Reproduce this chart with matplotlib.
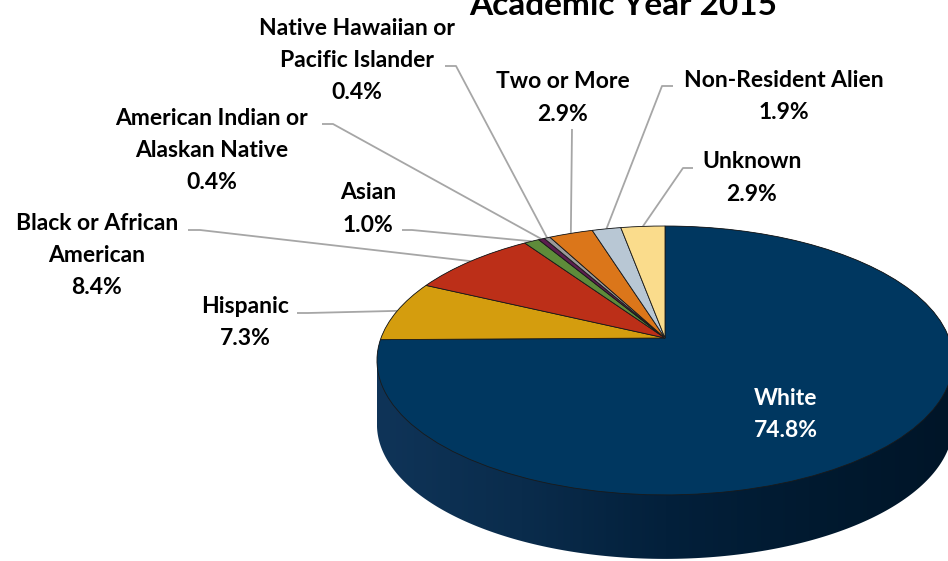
import numpy as np
import matplotlib
matplotlib.use("Agg")
import matplotlib.pyplot as plt
from matplotlib.transforms import Transform
from matplotlib.path import Path
from matplotlib.patches import PathPatch
from matplotlib.colors import LinearSegmentedColormap

# ---------------- data ----------------
title = "Academic Year 2015"
categories = ["White", "Hispanic", "Black or African\nAmerican", "Asian",
              "American Indian or\nAlaskan Native", "Native Hawaiian or\nPacific Islander",
              "Two or More", "Non-Resident Alien", "Unknown"]
values = [74.8, 7.3, 8.4, 1.0, 0.4, 0.4, 2.9, 1.9, 2.9]
colors = ["#003760", "#D49D0E", "#BC2F18", "#5E8B3A", "#5C1D4F",
          "#9A9A9A", "#DB761A", "#B8C7D4", "#FADC8C"]

# ---------------- layout ----------------
W, H = 948, 561
CX, CY, RX, RY, K, DEPTH = 665, 338, 284, 130.7, 0.167, 64
FONT = "Lato"
FS = 16.5
PITCH = 32.2
# label placement: (x center, baseline of first line, leader start, leader elbow)
label_layout = [
    (786, 405, None, None),
    (245, 312.7, (297, 313), (308, 313)),
    (97, 230, (188, 230), (200, 230)),
    (368, 199.3, (402, 230), (412, 230)),
    (212, 125, (322, 124), (333, 124)),
    (357, 34.5, (445, 66), (456, 66)),
    (562.5, 88.3, None, (572, 129)),
    (783.5, 86.7, (673, 86), (662, 86)),
    (752, 168.3, (693, 168), (683, 168)),
]


class Persp(Transform):
    """Tilted-disc perspective: unit disc (u, v) -> pixel coords."""
    input_dims = 2
    output_dims = 2
    is_separable = False
    has_inverse = False

    def __init__(self, dy=0.0):
        super().__init__()
        self.dy = dy

    def transform_non_affine(self, values):
        p = np.asarray(values, dtype=float)
        u, v = p[:, 0], p[:, 1]
        s = 1.0 / (1.0 + K * v)
        return np.column_stack([CX + RX * u * s, CY - RY * v * s + self.dy])


fig = plt.figure(figsize=(W / 100, H / 100), dpi=100)
ax = fig.add_axes([0, 0, 1, 1])

wedges, _ = ax.pie(values, colors=colors, startangle=90, counterclock=False,
                   wedgeprops=dict(edgecolor="#1a1a1a", linewidth=0.6))
persp = Persp()
for w in wedges:
    w.set_transform(persp + ax.transData)
    w.set_zorder(3)

# ---------------- side of the disc ----------------
a = np.arcsin(K)
t_top = np.linspace(-a, np.pi + a, 200)
t_bot = np.linspace(np.pi + a, 2 * np.pi - a, 200)
top_pts = Persp(0).transform(np.column_stack([np.cos(t_top), np.sin(t_top)]))
bot_pts = Persp(DEPTH).transform(np.column_stack([np.cos(t_bot), np.sin(t_bot)]))
verts = np.vstack([top_pts, bot_pts, top_pts[:1]])
side_path = Path(verts, closed=True)
side_patch = PathPatch(side_path, facecolor="none", edgecolor="none", transform=ax.transData)
ax.add_patch(side_patch)
xmin, xmax = verts[:, 0].min(), verts[:, 0].max()
ymin, ymax = verts[:, 1].min(), verts[:, 1].max()
cmap = LinearSegmentedColormap.from_list("side", ["#0F3458", "#0A2C4C", "#03203B", "#011A30", "#001528"])
grad = np.linspace(0, 1, 256)[None, :]
im = ax.imshow(grad, cmap=cmap, extent=(xmin, xmax, ymax, ymin), aspect="auto",
               zorder=1, interpolation="bilinear")
im.set_clip_path(side_patch)

# ---------------- labels & leaders ----------------
cum = np.concatenate([[0], np.cumsum(values)])
total = cum[-1]
for i, (cat, val) in enumerate(zip(categories, values)):
    x, y0, start, elbow = label_layout[i]
    lines = cat.split("\n") + [f"{val:.1f}%"]
    col = "white" if i == 0 else "black"
    for j, ln in enumerate(lines):
        ax.text(x, y0 + j * PITCH, ln, ha="center", va="baseline", fontsize=FS,
                fontweight="bold", family=FONT, color=col, zorder=6)
    if elbow is not None:
        mid = np.deg2rad(90 - 360 * (cum[i] + cum[i + 1]) / 2 / total)
        end = persp.transform(np.array([[np.cos(mid), np.sin(mid)]]))[0]
        pts = [p for p in (start, elbow) if p is not None] + [tuple(end)]
        xs, ys = zip(*pts)
        ax.plot(xs, ys, color="#A6A6A6", lw=1.3, zorder=2, solid_capstyle="butt")

ax.text(623, 15, title, ha="center", va="baseline", fontsize=24, fontweight="bold",
        family=FONT, color="black")

ax.set_aspect("auto")
ax.set_xlim(0, W)
ax.set_ylim(H, 0)
ax.axis("off")
fig.savefig("out.png", dpi=100)
